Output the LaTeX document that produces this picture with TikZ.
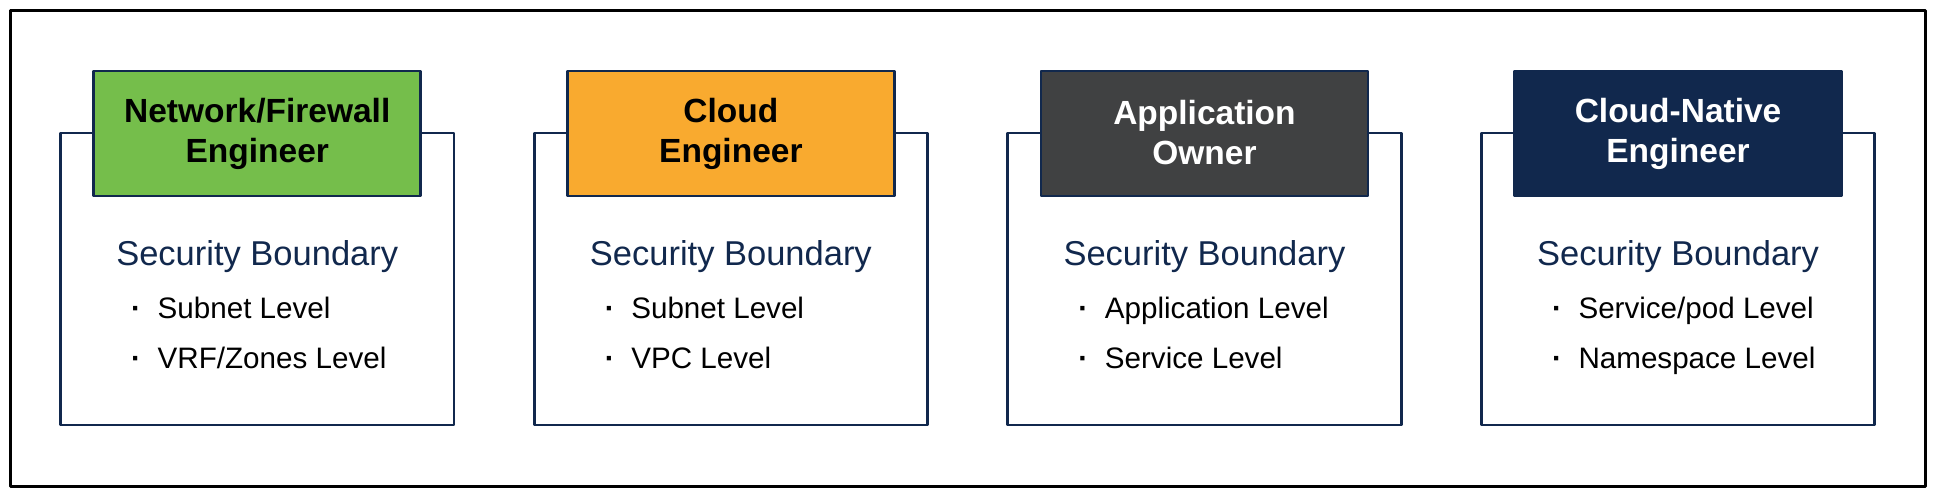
\documentclass[tikz,border=0pt]{standalone}
\usepackage{fontspec}
\setmainfont{Liberation Sans}
\definecolor{cnavy}{HTML}{11284D}
\definecolor{cgreen}{HTML}{75BE4B}
\definecolor{corange}{HTML}{F9AA2F}
\definecolor{cgray}{HTML}{404142}
\tikzset{
  bound/.style={draw=cnavy, line width=2.8pt, minimum width=393.5pt, minimum height=292pt, inner sep=0pt},
  role/.style={draw=cnavy, line width=2.8pt, minimum width=327pt, minimum height=125pt, inner sep=0pt, align=center, font=\fontsize{33.5}{40}\selectfont\bfseries, execute at end node=\rule[-2pt]{0pt}{2pt}},
  title/.style={text=cnavy, anchor=base, inner sep=0pt, font=\fontsize{34.5}{40}\selectfont},
  item/.style={anchor=base west, inner sep=0pt, font=\fontsize{29.6}{36}\selectfont},
}
\begin{document}
\begin{tikzpicture}[x=1pt, y=-1pt, line join=round]
	\useasboundingbox (0,0) rectangle (1935,497);
	
	% outer frame
	\draw[black, line width=3pt] (10,11) rectangle (1925.5,486);
	
	\foreach \i/\hue/\ink/\role/\first/\second in {
		0/cgreen/black/{Network/Firewall\\Engineer}/{Subnet Level}/{VRF/Zones Level},
		1/corange/black/{Cloud\\Engineer}/{Subnet Level}/{VPC Level},
		2/cgray/white/{Application\\Owner}/{Application Level}/{Service Level},
		3/cnavy/white/{Cloud-Native\\Engineer}/{Service/pod Level}/{Namespace Level}}{
		\pgfmathsetmacro\xl{60.5+473.6*\i}
		\node[bound] (bound\i) at (\xl+196.75,279) {};
		\node[role, fill=\hue, text=\ink] (role\i) at (\xl+196.75,133.5) {\role};
		\node[title] (title\i) at (\xl+196.75,265) {Security Boundary};
		\node[item] (itema\i) at (\xl+70.5,318) {\makebox[26.5pt][l]{\textbf{·}}\first};
		\node[item] (itemb\i) at (\xl+70.5,368) {\makebox[26.5pt][l]{\textbf{·}}\second};
	}
\end{tikzpicture}
\end{document}
